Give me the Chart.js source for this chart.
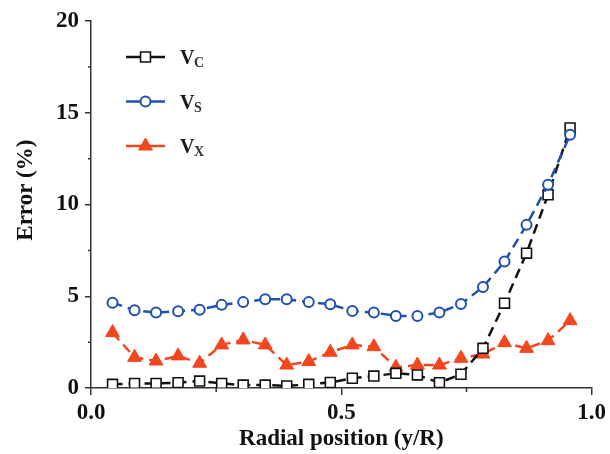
<!DOCTYPE html>
<html>
<head>
<meta charset="utf-8">
<script src="https://cdn.jsdelivr.net/npm/chart.js@4.4.1/dist/chart.umd.min.js"></script>
<style>
  html, body { margin: 0; padding: 0; background: #fff; }
  #wrap { width: 610px; height: 454px; }
</style>
</head>
<body>
<div id="wrap"><canvas id="chart1" width="610" height="454"></canvas></div>
<script>
    // radial position y/R of the measuring points
    var radialPos = [0.043, 0.087, 0.130, 0.174, 0.217, 0.261, 0.304, 0.348, 0.391, 0.435, 0.478,
                     0.522, 0.565, 0.609, 0.652, 0.696, 0.739, 0.783, 0.826, 0.870, 0.913, 0.957];

    // error (%) of each velocity component
    var errVc = [0.20, 0.25, 0.25, 0.29, 0.38, 0.25, 0.16, 0.16, 0.11, 0.20, 0.30,
                 0.53, 0.65, 0.80, 0.71, 0.29, 0.75, 2.16, 4.62, 7.35, 10.53, 14.17];
    var errVs = [4.65, 4.24, 4.11, 4.18, 4.27, 4.53, 4.68, 4.84, 4.84, 4.68, 4.56,
                 4.20, 4.11, 3.93, 3.93, 4.11, 4.58, 5.50, 6.89, 8.89, 11.07, 13.80];
    var errVx = [3.02, 1.67, 1.47, 1.75, 1.35, 2.35, 2.62, 2.35, 1.25, 1.44, 1.95,
                 2.35, 2.25, 1.13, 1.25, 1.25, 1.62, 1.85, 2.47, 2.16, 2.58, 3.67];

    var xTickLabels = ['0.0', '', '0.5', '', '1.0'];
    var yTickLabels = ['0', '', '5', '', '10', '', '15', '', '20'];
    var legendNames = ['V', 'V', 'V'];
    var legendSubs = ['C', 'S', 'X'];

    var serif = "'Liberation Serif', 'Times New Roman', serif";
    var axisColor = '#333';

    function toPoints(values) {
        return values.map(function (v, i) { return { x: radialPos[i], y: v }; });
    }

    // major ticks are the labelled ones, minor ones get drawn shorter below
    function majorTickColor(labels) {
        return function (c) { return labels[c.index] ? axisColor : 'rgba(0,0,0,0)'; };
    }

    const data = {
        datasets: [
            {
                label: 'Vs',
                data: toPoints(errVs),
                borderColor: '#1f50b0',
                borderWidth: 2.5,
                borderDash: [10, 6],
                pointStyle: 'circle',
                pointRadius: 5,
                pointBorderWidth: 2,
                pointBackgroundColor: '#fff',
                pointBorderColor: '#1f50b0'
            },
            {
                label: 'Vc',
                data: toPoints(errVc),
                borderColor: '#111',
                borderWidth: 2.5,
                borderDash: [10, 6],
                pointStyle: 'rect',
                pointRadius: 7,
                pointBorderWidth: 1.6,
                pointBackgroundColor: '#fff',
                pointBorderColor: '#111'
            },
            {
                label: 'Vx',
                data: toPoints(errVx),
                borderColor: '#f2461e',
                borderWidth: 2.5,
                borderDash: [10, 6],
                pointStyle: 'triangle',
                pointRadius: 8,
                pointBorderWidth: 1,
                pointBackgroundColor: '#f2461e',
                pointBorderColor: '#f2461e'
            }
        ]
    };

    const minorTicks = {
        id: 'minorTicks',
        afterDraw: function (chart) {
            var ctx = chart.ctx;
            var xs = chart.scales.x, ys = chart.scales.y;
            ctx.save();
            ctx.strokeStyle = axisColor;
            ctx.lineWidth = 1.5;
            ctx.beginPath();
            xs.ticks.forEach(function (t, i) {
                if (xTickLabels[i]) return;
                var px = xs.getPixelForValue(t.value);
                ctx.moveTo(px, xs.top);
                ctx.lineTo(px, xs.top + 4);
            });
            ys.ticks.forEach(function (t, i) {
                if (yTickLabels[i]) return;
                var py = ys.getPixelForValue(t.value);
                ctx.moveTo(ys.right, py);
                ctx.lineTo(ys.right - 3, py);
            });
            ctx.stroke();
            ctx.restore();
        }
    };

    // legend drawn by hand so the subscripts can be set smaller
    const subLegend = {
        id: 'subLegend',
        afterDraw: function (chart) {
            var ctx = chart.ctx;
            var order = [1, 0, 2];
            order.forEach(function (dsIndex, row) {
                var ds = chart.data.datasets[dsIndex];
                var y = 57 + row * 44.5;
                ctx.save();
                ctx.strokeStyle = ds.borderColor;
                ctx.lineWidth = 2.5;
                ctx.beginPath();
                ctx.moveTo(126, y);
                ctx.lineTo(165, y);
                ctx.stroke();
                ctx.fillStyle = ds.pointBackgroundColor;
                ctx.strokeStyle = ds.pointBorderColor;
                ctx.lineWidth = ds.pointBorderWidth;
                Chart.helpers.drawPoint(ctx, {
                    pointStyle: ds.pointStyle,
                    radius: ds.pointRadius,
                    borderWidth: ds.pointBorderWidth,
                    rotation: 0
                }, 145.5, y);
                ctx.fillStyle = '#1a1a1a';
                ctx.textBaseline = 'alphabetic';
                ctx.font = 'bold 20px ' + serif;
                ctx.fillText(legendNames[row], 180, y + 7);
                ctx.fillStyle = '#333';
                ctx.font = 'bold 14px ' + serif;
                ctx.fillText(legendSubs[row], 194, y + 10);
                ctx.restore();
            });
        }
    };

    const config = {
        type: 'line',
        data: data,
        options: {
            responsive: false,
            animation: false,
            layout: { padding: { left: 12, top: 21, right: 17, bottom: 1 } },
            plugins: {
                legend: { display: false },
                tooltip: { enabled: false }
            },
            scales: {
                x: {
                    type: 'linear',
                    min: 0,
                    max: 1,
                    afterFit: function (scale) { scale.height = 65; },
                    ticks: {
                        stepSize: 0.25,
                        autoSkip: false,
                        maxRotation: 0,
                        padding: 4,
                        color: '#111',
                        font: { family: serif, size: 23, weight: 'bold' },
                        callback: function (v, i) { return xTickLabels[i]; }
                    },
                    grid: {
                        drawOnChartArea: false, drawTicks: true, tickLength: 7,
                        color: axisColor, tickColor: majorTickColor(xTickLabels), lineWidth: 1.5
                    },
                    border: { display: true, color: axisColor, width: 1.5 },
                    title: {
                        display: true,
                        text: 'Radial position (y/R)',
                        color: '#111',
                        padding: { top: 0, bottom: 0 },
                        font: { family: serif, size: 23, weight: 'bold' }
                    }
                },
                y: {
                    min: 0,
                    max: 20,
                    afterFit: function (scale) { scale.width = 79; },
                    ticks: {
                        stepSize: 2.5,
                        autoSkip: false,
                        padding: 6,
                        color: '#111',
                        font: { family: serif, size: 23, weight: 'bold' },
                        callback: function (v, i) { return yTickLabels[i]; }
                    },
                    grid: {
                        drawOnChartArea: false, drawTicks: true, tickLength: 6,
                        color: axisColor, tickColor: majorTickColor(yTickLabels), lineWidth: 1.5
                    },
                    border: { display: true, color: axisColor, width: 1.5 },
                    title: {
                        display: true,
                        text: '     Error (%)',
                        color: '#111',
                        padding: { top: 0, bottom: 0 },
                        font: { family: serif, size: 23, weight: 'bold' }
                    }
                }
            }
        },
        plugins: [minorTicks, subLegend]
    };

    const chart1 = new Chart(document.getElementById('chart1'), config);
</script>
</body>
</html>
